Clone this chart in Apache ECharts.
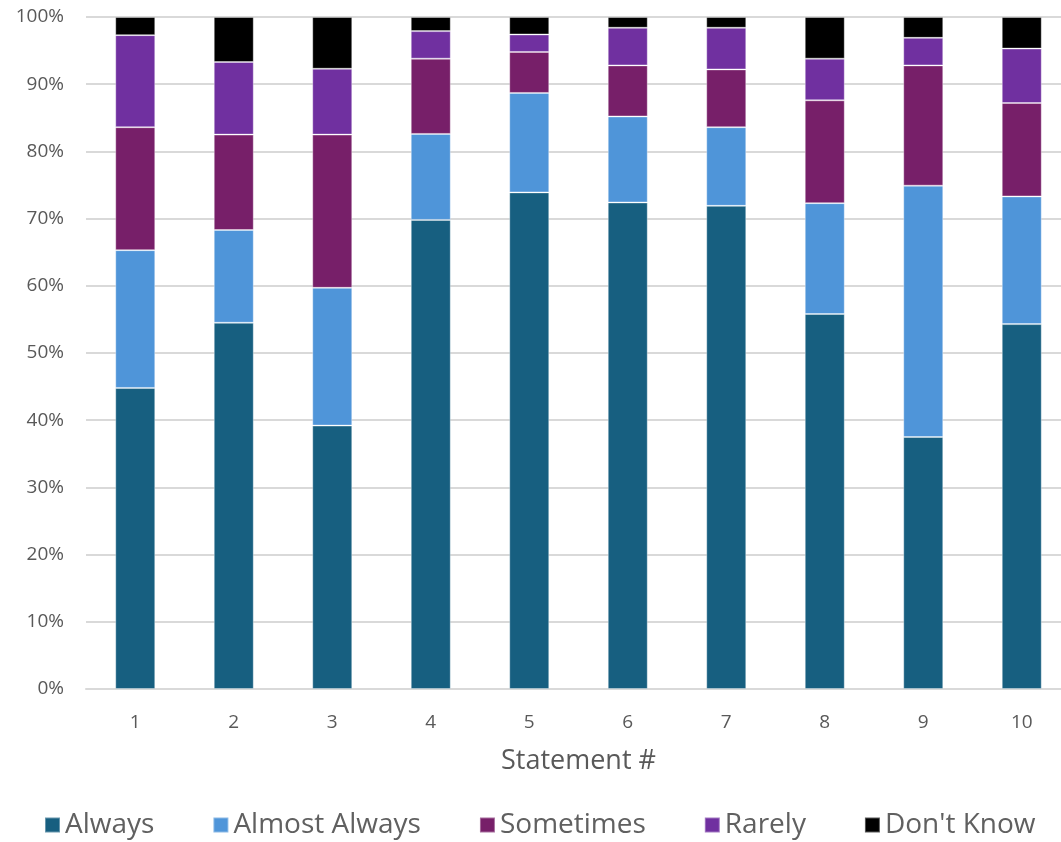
<!DOCTYPE html>
<html>
<head>
<meta charset="utf-8">
<script src="https://cdn.jsdelivr.net/npm/echarts@6/dist/echarts.min.js"></script>
<style>
  html, body { margin: 0; padding: 0; background: #fff; }
  #chart { width: 1061px; height: 842px; }
</style>
</head>
<body>
<div id="chart"></div>
<script>
// Statement numbers along the x axis
const statements = ['1', '2', '3', '4', '5', '6', '7', '8', '9', '10'];

// Share of responses (%) per statement, stacked to 100%
const always        = [44.8, 54.5, 39.2, 69.8, 73.9, 72.4, 71.9, 55.8, 37.5, 54.3];
const almostAlways  = [20.5, 13.8, 20.5, 12.8, 14.8, 12.8, 11.7, 16.5, 37.4, 19.0];
const sometimes     = [18.3, 14.2, 22.8, 11.2,  6.1,  7.6,  8.6, 15.3, 17.9, 13.9];
const rarely        = [13.7, 10.8,  9.8,  4.1,  2.6,  5.6,  6.2,  6.2,  4.1,  8.1];
const dontKnow      = [ 2.7,  6.7,  7.7,  2.1,  2.6,  1.6,  1.6,  6.2,  3.1,  4.7];

const seriesNames = ['Always', 'Almost Always', 'Sometimes', 'Rarely', "Don't Know"];
const seriesData = [always, almostAlways, sometimes, rarely, dontKnow];
const seriesColors = ['#175F80', '#4F95D9', '#771F69', '#7030A0', '#000000'];

const font = '"Open Sans", "Noto Sans", sans-serif';

const chart = echarts.init(document.getElementById('chart'), null, { renderer: 'canvas' });

chart.setOption({
  animation: false,
  backgroundColor: '#ffffff',
  // the plot runs slightly past the right edge of the canvas
  grid: { left: 86, top: 17, bottom: 153, width: 985, outerBoundsMode: 'none', containLabel: false },
  legend: {
    top: 806,
    left: 39,
    width: 1040,
    itemWidth: 15,
    itemHeight: 15,
    itemGap: 58,
    icon: 'rect',
    textStyle: { fontFamily: font, fontSize: 28, color: '#606060', padding: [0, 0, 0, 0] },
    data: seriesNames
  },
  xAxis: {
    type: 'category',
    data: statements,
    name: 'Statement #',
    nameLocation: 'middle',
    nameGap: 59,
    nameTextStyle: { fontFamily: font, fontSize: 27, color: '#595959' },
    axisLine: { show: true, lineStyle: { color: '#d9d9d9', width: 2 } },
    axisTick: { show: false },
    axisLabel: { fontFamily: font, fontSize: 19, color: '#595959', margin: 24 }
  },
  yAxis: {
    type: 'value',
    min: 0,
    max: 100,
    interval: 10,
    axisLine: { show: false },
    axisTick: { show: false },
    splitLine: { lineStyle: { color: '#d9d9d9', width: 2 } },
    axisLabel: {
      fontFamily: font, fontSize: 19, color: '#595959', margin: 22,
      formatter: v => v + '%'
    }
  },
  series: seriesNames.map((name, i) => ({
    name,
    type: 'bar',
    stack: 'total',
    barWidth: 40,
    data: seriesData[i],
    itemStyle: {
      color: seriesColors[i],
      borderColor: 'rgba(255,255,255,0.35)',
      borderWidth: 1
    }
  }))
});
</script>
</body>
</html>
